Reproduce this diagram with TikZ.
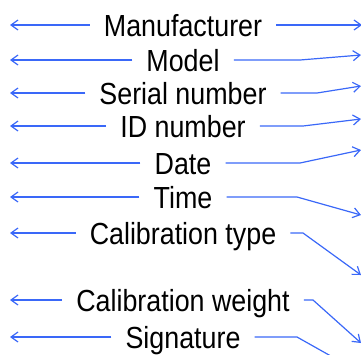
\documentclass[tikz,border=0pt]{standalone}
\usepackage{fontspec}
\setmainfont[FakeStretch=0.88]{Liberation Sans}
\usetikzlibrary{arrows.meta}
\definecolor{arrblue}{HTML}{3A68F8}
\tikzset{
  lbl/.style={font=\fontsize{30.5}{32}\selectfont, text height=22pt, text depth=0pt,
              inner xsep=14pt, inner ysep=0pt, anchor=center},
  con/.style={draw=arrblue, line width=1.2pt, -{Straight Barb[length=7pt,width=10pt]}}
}
\begin{document}
\begin{tikzpicture}[x=1pt,y=-1pt]
\useasboundingbox (0,0) rectangle (361,354);
\clip (0,0) rectangle (361,354);
% labels
\node[lbl] (m1) at (183,25) {Manufacturer};
\node[lbl] (m2) at (183,60) {Model};
\node[lbl] (m3) at (183,93) {Serial number};
\node[lbl] (m4) at (183,126) {ID number};
\node[lbl] (m5) at (183,163) {Date};
\node[lbl] (m6) at (183,197) {Time};
\node[lbl] (m7) at (183,233) {Calibration type};
\node[lbl] (m8) at (183,300) {Calibration weight};
\node[lbl] (m9) at (183,337) {Signature};
% left targets
\foreach \i/\y in {1/25,2/60,3/93,4/126,5/163,6/197,7/233,8/300,9/337}{
  \coordinate (l\i) at (10,\y);
  \draw[con] (m\i.west) -- (l\i);
}
% right bends and targets
\coordinate (r1) at (362,25);
\coordinate (b2) at (300,60);  \coordinate (r2) at (361,55);
\coordinate (b3) at (317,93);  \coordinate (r3) at (361,86);
\coordinate (b4) at (303,126); \coordinate (r4) at (361,119);
\coordinate (b5) at (300,163); \coordinate (r5) at (361,150);
\coordinate (b6) at (297,197); \coordinate (r6) at (361,215);
\coordinate (b7) at (303,233); \coordinate (r7) at (361,275);
\coordinate (b8) at (313,300); \coordinate (r8) at (361,343);
\coordinate (b9) at (297,337); \coordinate (r9) at (361,373);
\draw[con] (m1.east) -- (r1);
\foreach \i in {2,...,9}{
  \draw[con] (m\i.east) -- (b\i) -- (r\i);
}
\end{tikzpicture}
\end{document}
